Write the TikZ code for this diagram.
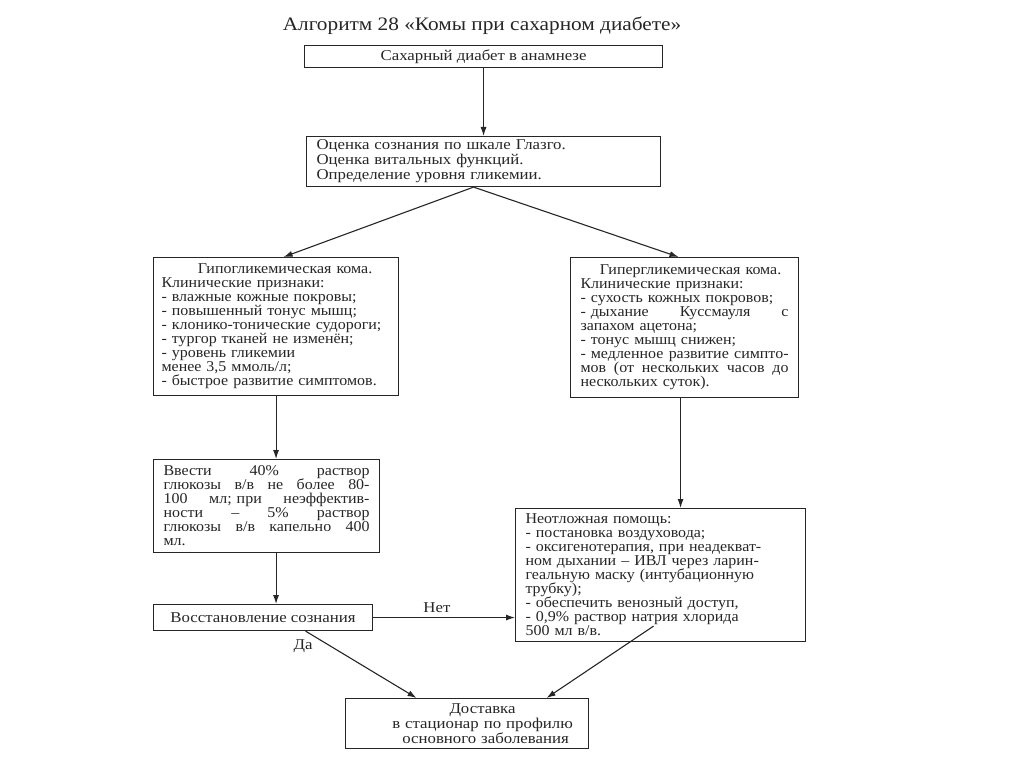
\documentclass[tikz,border=0pt]{standalone}
\usepackage{fontspec}
\setmainfont{Liberation Serif}[FakeStretch=1.12]
\newfontfamily\narrowfont{Liberation Serif}[FakeStretch=1.065,Ligatures=TeX]
\usetikzlibrary{arrows.meta}
\newcommand{\jline}[1]{\makebox[\linewidth][s]{#1}}
\begin{document}
\begin{tikzpicture}[x=1pt,y=-1pt,
  box/.style={draw=black!85, line width=1.1pt, anchor=north west, inner ysep=0pt,
    text=black!85, font=\fontsize{15}{14}\selectfont},
  nbox/.style={box, font=\narrowfont\fontsize{15}{14}\selectfont},
  lbl/.style={text=black!85, font=\fontsize{15}{14}\selectfont},
  arr/.style={draw=black!85, -{Latex[length=9pt,width=6pt]}, line width=1.1pt}]
\useasboundingbox[fill=white] (0,0) rectangle (1024,767);

\node[text=black!85, font=\fontsize{19}{20}\selectfont] (title) at (482,26)
  {Алгоритм 28 «Комы при сахарном диабете»};

\node[box, minimum width=358pt, minimum height=22pt] (b1) at (304,45)
  {Сахарный диабет в анамнезе};

\node[box, text width=334pt, inner xsep=10pt, minimum height=50pt, align=left,
  font=\fontsize{15}{15}\selectfont] (b2) at (306,136)
  {Оценка сознания по шкале Глазго.\\
   Оценка витальных функций.\\
   Определение уровня гликемии.};

\node[nbox, text width=237pt, inner xsep=4pt, minimum height=138pt, align=left] (b3) at (153,257)
  {\makebox[\linewidth]{\hspace*{18pt}Гипогликемическая кома.}\\
   \hspace*{4pt}Клинические признаки:\\
   \hspace*{4pt}- влажные кожные покровы;\\
   \hspace*{4pt}- повышенный тонус мышц;\\
   \hspace*{4pt}- клонико-тонические судороги;\\
   \hspace*{4pt}- тургор тканей не изменён;\\
   \hspace*{4pt}- уровень гликемии\\
   \hspace*{4pt}менее 3,5 ммоль/л;\\
   \hspace*{4pt}- быстрое развитие симптомов.};

\node[nbox, text width=208pt, inner xsep=10pt, minimum height=140pt, align=left] (b4) at (570,257)
  {\makebox[\linewidth]{\hspace*{12pt}Гипергликемическая кома.}\\
   Клинические признаки:\\
   - сухость кожных покровов;\\
   \jline{- дыхание \hfill Куссмауля \hfill с}\\
   запахом ацетона;\\
   - тонус мышц снижен;\\
   \jline{- медленное \hfill развитие \hfill симпто-}\\
   \jline{мов \hfill (от \hfill нескольких \hfill часов \hfill до}\\
   нескольких суток).};

\node[nbox, text width=206pt, inner xsep=10pt, minimum height=93pt, align=left] (b5) at (153,459)
  {\jline{Ввести \hfill 40\% \hfill раствор}\\
   \jline{глюкозы \hfill в/в \hfill не \hfill более \hfill 80-}\\
   \jline{100 \hfill мл; при \hfill неэффектив-}\\
   \jline{ности \hfill – \hfill 5\% \hfill раствор}\\
   \jline{глюкозы \hfill в/в \hfill капельно \hfill 400}\\
   мл.};

\node[box, minimum width=219pt, minimum height=26pt] (b6) at (153,604)
  {Восстановление сознания};

\node[nbox, text width=270pt, inner xsep=10pt, minimum height=133pt, align=left] (b7) at (515,508)
  {Неотложная помощь:\\
   - постановка воздуховода;\\
   - оксигенотерапия, при неадекват-\\
   ном дыхании – ИВЛ через ларин-\\
   геальную маску (интубационную\\
   трубку);\\
   - обеспечить венозный доступ,\\
   - 0,9\% раствор натрия хлорида\\
   500 мл в/в.};

\node[box, text width=243pt, inner xsep=0pt, minimum height=50pt, align=center,
  font=\fontsize{15}{13.5}\selectfont] (b8) at (345,698)
  {\hspace*{31pt}Доставка\\ \hspace*{31pt}в стационар по профилю\\ \hspace*{37pt}основного заболевания};

\draw[arr] (b1.south) -- (b2.north);
\draw[arr] ([xshift=-10pt]b2.south) -- ([xshift=7.5pt]b3.north);
\draw[arr] ([xshift=-10pt]b2.south) -- ([xshift=-6pt]b4.north);
\draw[arr] (b3.south) -- (b3.south |- b5.north);
\draw[arr] (b3.south |- b5.south) -- (b3.south |- b6.north);
\draw[arr] ([xshift=-4pt]b4.south) -- ([xshift=-4pt]b4.south |- b7.north);
\draw[arr] (b6.east) -- node[lbl, above=1pt, pos=0.45] {Нет} (b6.east -| b7.west);
\draw[arr] ([xshift=42.5pt]b6.south) -- ([xshift=-50.5pt]b8.north);
\node[lbl] (da) at (303,646) {Да};
\coordinate (c7) at ([xshift=-7pt,yshift=16pt]b7.south);
\draw[arr] (c7) -- ([xshift=79.5pt]b8.north);
\end{tikzpicture}
\end{document}
